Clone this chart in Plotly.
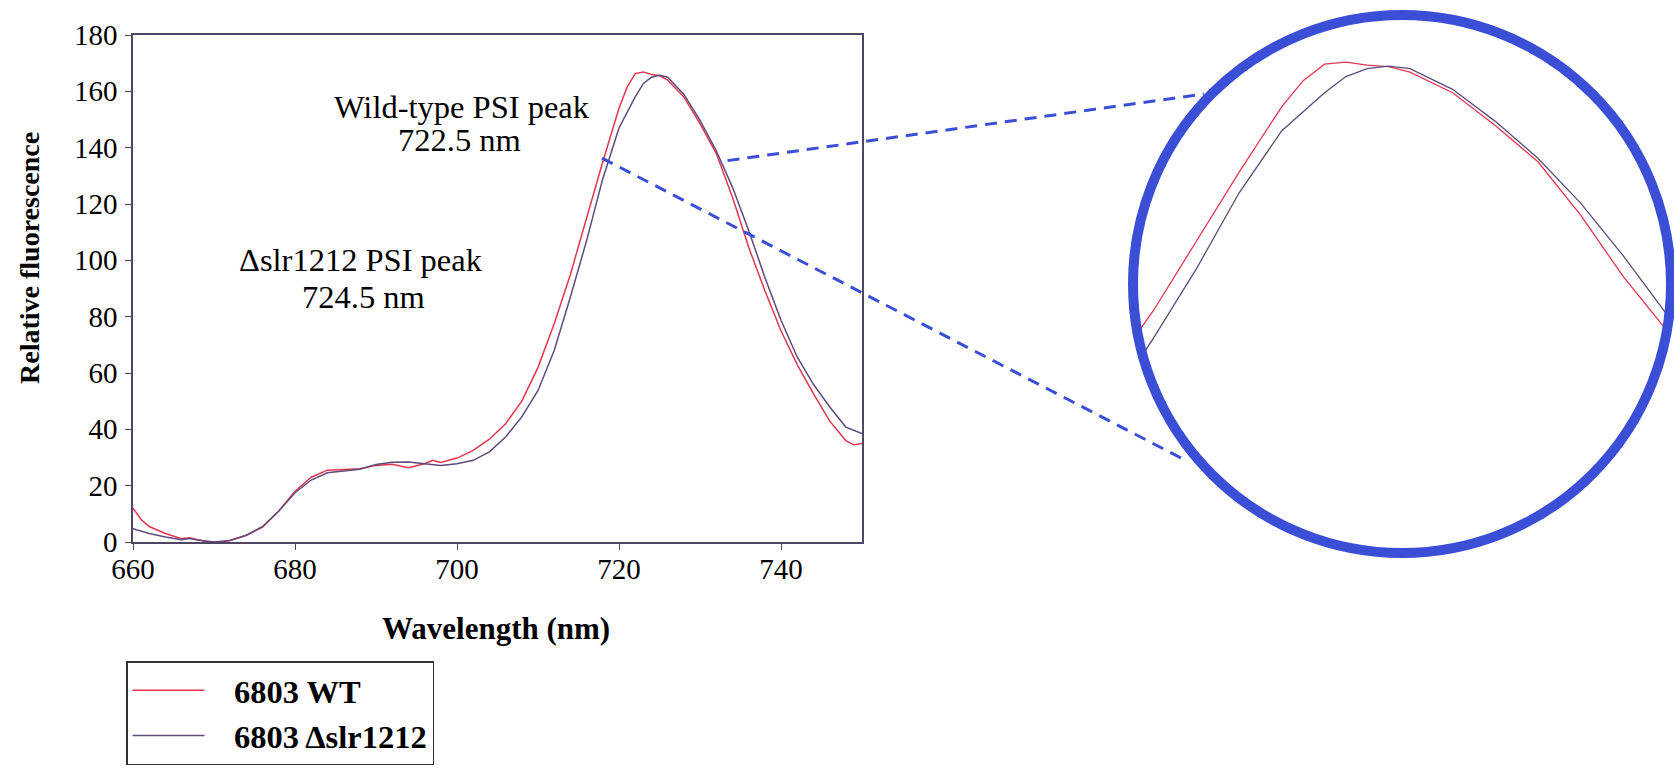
import plotly.graph_objects as go

# ---------------- data ----------------
wt_nm = [660, 661, 662, 664, 666, 667, 668, 669, 670, 671, 672, 674, 676, 678, 680,
         682, 684, 686, 688, 690, 692, 694, 696, 697, 698, 700, 702, 704, 706, 708,
         710, 712, 714, 716, 718, 720, 721, 722, 723, 724, 725, 726, 728, 730, 732,
         734, 736, 738, 740, 742, 744, 746, 748, 749, 750]
wt_val = [12, 8, 5.5, 3, 1.2, 1.5, 0.8, 0.2, 0, 0, 0.6, 2.4, 5.3, 11, 18,
          23, 25.5, 25.8, 26, 27.2, 27.6, 26.4, 27.8, 29, 28.2, 29.8, 32.5, 36.5, 42, 50,
          62, 77.5, 95, 115, 135, 154, 161.5, 166.3, 166.9, 166, 165.6, 164, 158, 148.5, 138,
          122.5, 104.7, 89.3, 75, 63, 52.7, 43, 36, 34.5, 35]

mut_nm = [660, 662, 664, 666, 667, 668, 670, 672, 674, 676, 678, 680, 682, 684, 686,
          688, 690, 692, 694, 696, 698, 700, 702, 704, 706, 708, 710, 712, 714, 716,
          718, 720, 722, 723, 724, 725, 726, 728, 730, 732, 734, 736, 738, 740, 742,
          744, 746, 748, 750]
mut_val = [4.7, 3, 1.8, 0.8, 1.2, 0.7, 0, 0.5, 2.4, 5.5, 11, 17.5, 22, 24.6, 25.2,
           25.8, 27.5, 28.3, 28.4, 27.8, 27.2, 27.8, 29, 32, 37.3, 44.4, 53.8, 68, 87, 107,
           129, 147, 158, 162.7, 165, 165.7, 165, 159, 149.7, 139, 126, 110.7, 94, 78.7, 65.7,
           56, 48, 40.8, 38.5]

series_names = ["6803 WT", "6803 \u0394slr1212"]
x_ticks = [660, 680, 700, 720, 740]
y_ticks = [0, 20, 40, 60, 80, 100, 120, 140, 160, 180]
x_range = [660, 750]
y_range = [0, 180]

# zoom window shown inside the circle
inset_x_range = [713.4, 738.0]
inset_y_range = [68.9, 179.1]

# annotation texts and their anchors in data units
peak_labels = ["Wild-type PSI peak", "722.5 nm", "\u0394slr1212 PSI peak", "724.5 nm"]
peak_label_x = [700.6, 700.3, 688.1, 688.5]
peak_label_y = [154.5, 142.7, 100.1, 87.0]
# points on the curves where the zoom connectors start
connector_nm = [717.9, 733.4]
connector_val = [136.3, 135.4]

# ---------------- layout geometry (pixels) ----------------
W, H = 1674, 769
L, R, T, B = 133, 862, 35, 542
IN_L, IN_R, IN_T, IN_B = 1141, 1666, 20, 400
CX, CY, CR = 1402, 284, 269
connector_end_px = [(1183, 459), (1204, 94)]

RED = "#e2364f"
PURPLE = "#5e4a7c"
BLUE = "#3a4fd6"
FONT = "Liberation Serif"
NBSP = "\u00a0"


def fx(px):
    return px / W


def fy(py):
    return 1 - py / H


def data_to_px(nm, v):
    x = L + (nm - x_range[0]) / (x_range[1] - x_range[0]) * (R - L)
    y = B - (v - y_range[0]) / (y_range[1] - y_range[0]) * (B - T)
    return x, y


fig = go.Figure()

fig.add_trace(go.Scatter(x=wt_nm, y=wt_val, mode="lines", name=NBSP * 3 + series_names[0],
                         line=dict(color=RED, width=1.5), xaxis="x", yaxis="y"))
fig.add_trace(go.Scatter(x=mut_nm, y=mut_val, mode="lines", name=NBSP * 3 + series_names[1],
                         line=dict(color=PURPLE, width=1.5), xaxis="x", yaxis="y"))

# magnified copies in the inset
fig.add_trace(go.Scatter(x=wt_nm, y=wt_val, mode="lines", showlegend=False,
                         line=dict(color=RED, width=1.3), xaxis="x2", yaxis="y2"))
fig.add_trace(go.Scatter(x=mut_nm, y=mut_val, mode="lines", showlegend=False,
                         line=dict(color=PURPLE, width=1.3), xaxis="x2", yaxis="y2"))

axis_line = "#4f4664"

fig.update_layout(
    width=W, height=H,
    margin=dict(l=0, r=0, t=0, b=0),
    paper_bgcolor="white", plot_bgcolor="white",
    font=dict(family=FONT, color="black"),
    xaxis=dict(domain=[fx(L), fx(R)], range=x_range, tickvals=x_ticks,
               ticks="outside", ticklen=6, tickcolor=axis_line, tickwidth=1.2,
               showline=True, linecolor=axis_line, linewidth=1.5, mirror=True,
               showgrid=False, zeroline=False, automargin=False,
               ticklabelstandoff=-6,
               tickfont=dict(family=FONT, size=29, color="black")),
    yaxis=dict(domain=[fy(B), fy(T)], range=y_range, tickvals=y_ticks,
               ticks="outside", ticklen=6, tickcolor=axis_line, tickwidth=1.2,
               showline=True, linecolor=axis_line, linewidth=1.5, mirror=True,
               showgrid=False, zeroline=False, automargin=False,
               ticklabelstandoff=2,
               tickfont=dict(family=FONT, size=29, color="black")),
    xaxis2=dict(domain=[fx(IN_L), fx(IN_R)], range=inset_x_range, anchor="y2",
                visible=False, showgrid=False, zeroline=False),
    yaxis2=dict(domain=[fy(IN_B), fy(IN_T)], range=inset_y_range, anchor="x2",
                visible=False, showgrid=False, zeroline=False),
    showlegend=True,
    legend=dict(x=fx(126), y=fy(661), xanchor="left", yanchor="top",
                bgcolor="white", bordercolor="#333333", borderwidth=1.5,
                font=dict(family=FONT, size=32.5, color="black", weight="bold"),
                itemwidth=72, tracegroupgap=0),
)

annotations = []
for txt, ax, ay in zip(peak_labels, peak_label_x, peak_label_y):
    annotations.append(dict(text=txt, x=ax, y=ay, xref="x", yref="y",
                            showarrow=False, xanchor="center", yanchor="middle",
                            font=dict(family=FONT, size=32.5, color="black")))
annotations.append(dict(text="<b>Wavelength (nm)</b>", x=fx(496), y=fy(628),
                        xref="paper", yref="paper", showarrow=False,
                        xanchor="center", yanchor="middle",
                        font=dict(family=FONT, size=31, color="black")))
annotations.append(dict(text="<b>Relative fluorescence</b>", x=fx(29), y=fy(258),
                        xref="paper", yref="paper", showarrow=False, textangle=-90,
                        xanchor="center", yanchor="middle",
                        font=dict(family=FONT, size=28, color="black")))
fig.update_layout(annotations=annotations)

shapes = []
for (nm, v), (ex, ey) in zip(zip(connector_nm, connector_val), connector_end_px):
    sx, sy = data_to_px(nm, v)
    shapes.append(dict(type="line", xref="paper", yref="paper",
                       x0=fx(sx), y0=fy(sy), x1=fx(ex), y1=fy(ey),
                       line=dict(color=BLUE, width=3, dash="12px,8px"), layer="above"))
shapes.append(dict(type="circle", xref="paper", yref="paper",
                   x0=fx(CX - CR), x1=fx(CX + CR), y0=fy(CY + CR), y1=fy(CY - CR),
                   line=dict(color=BLUE, width=10), fillcolor="rgba(0,0,0,0)",
                   layer="above"))
fig.update_layout(shapes=shapes)

fig.write_html("out.html")
